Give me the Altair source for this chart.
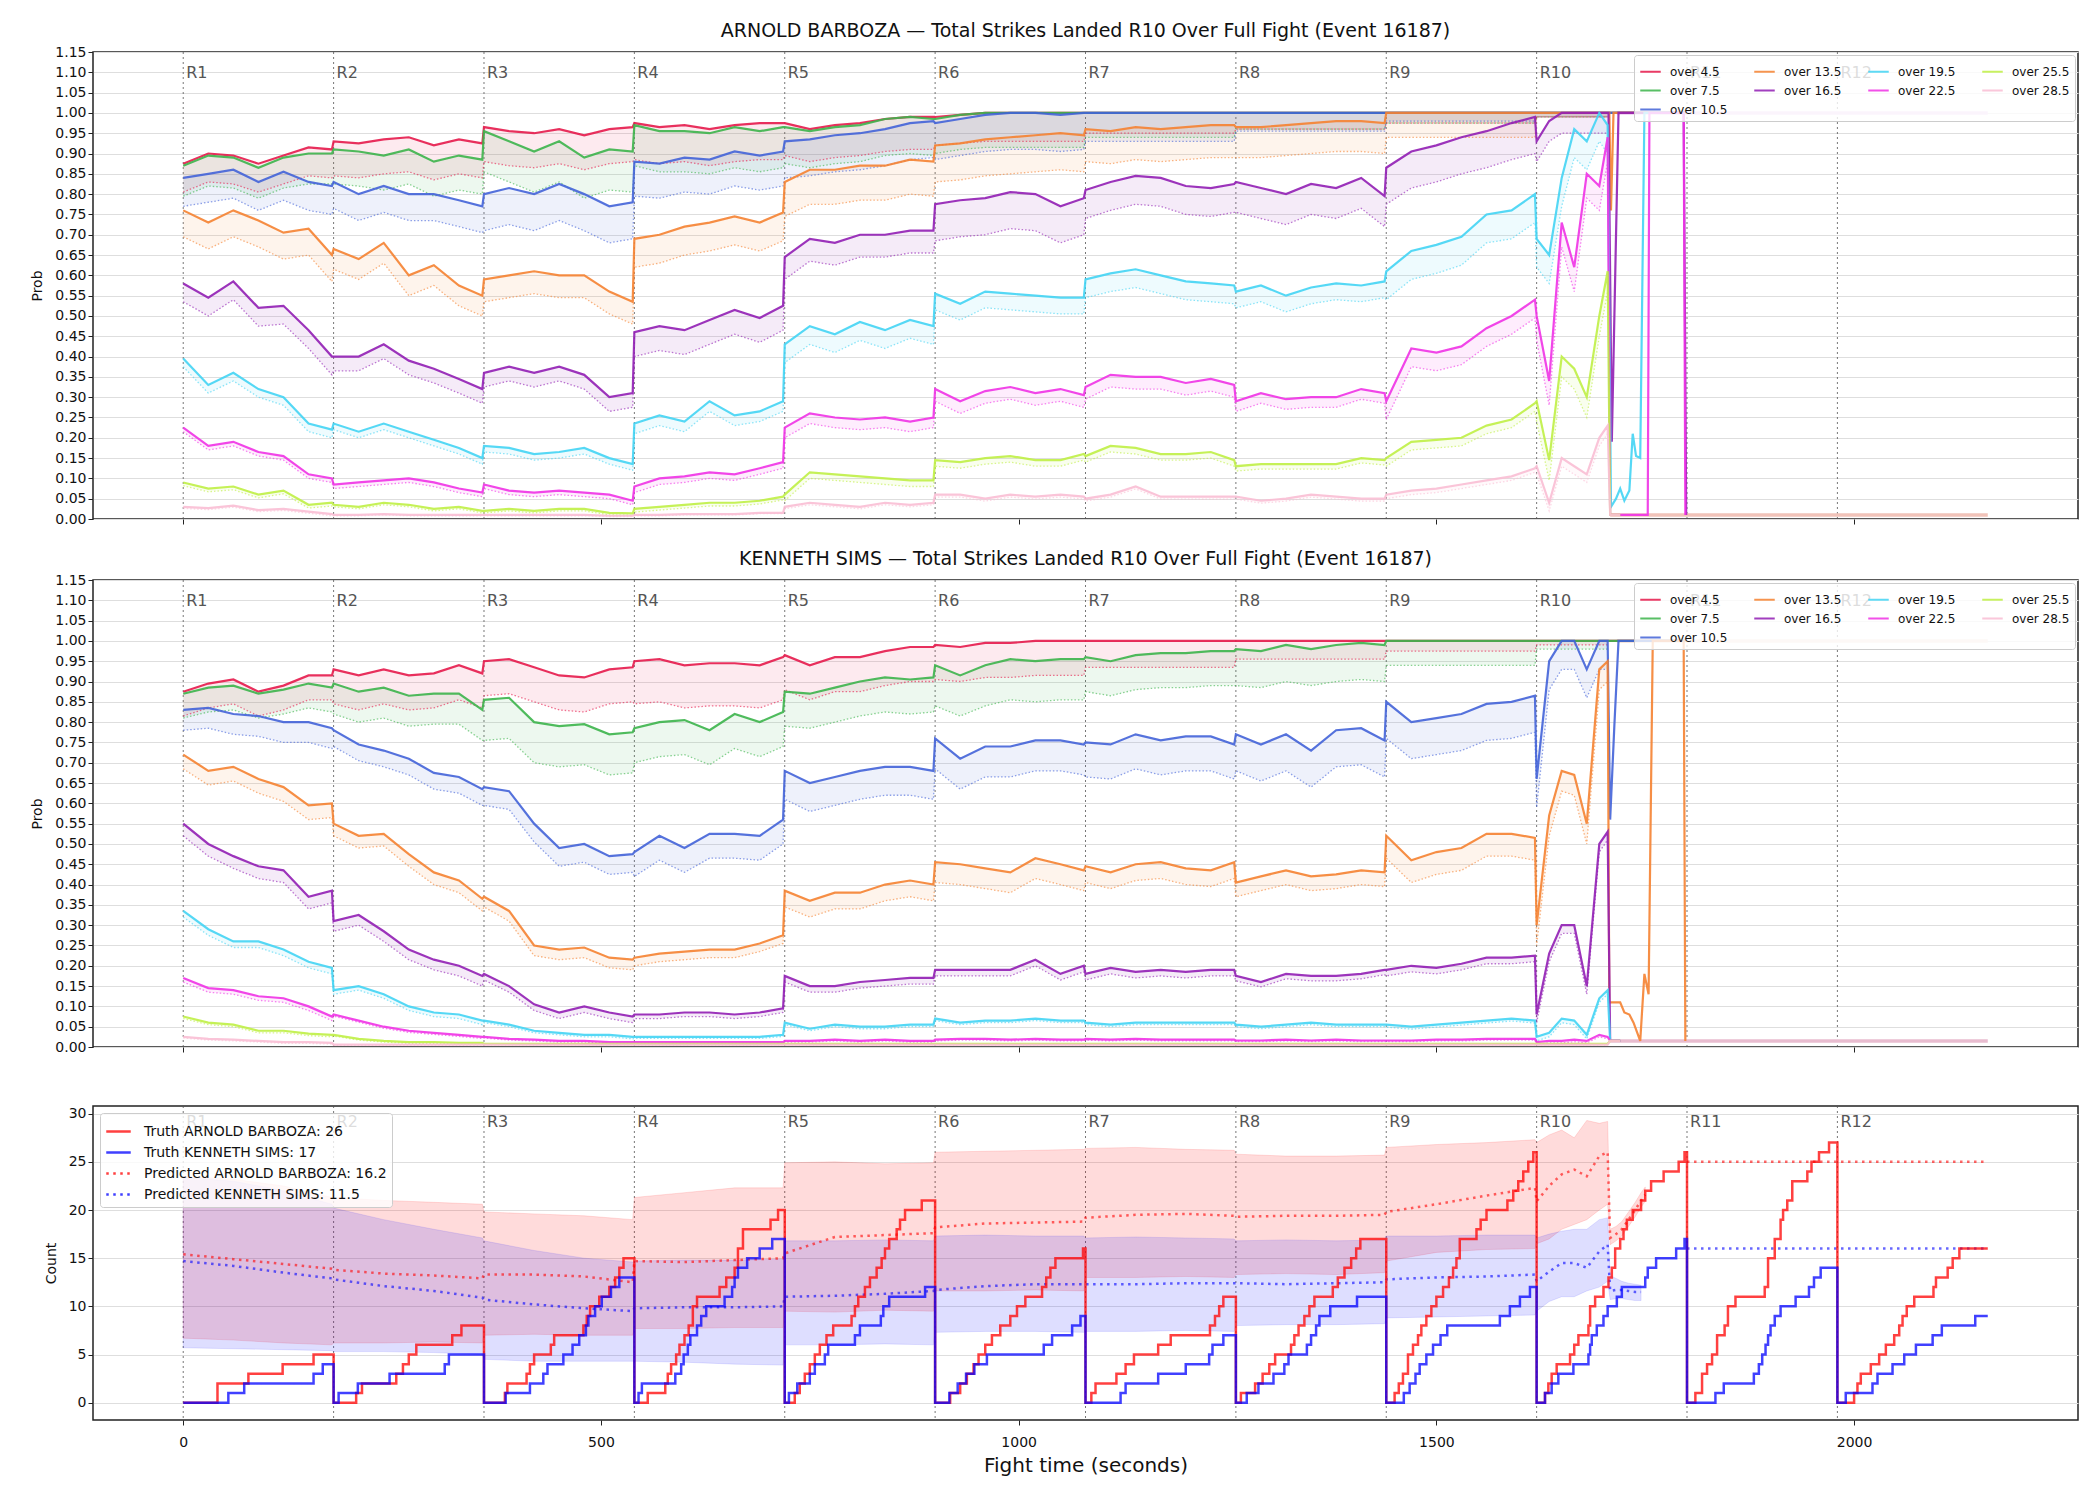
import altair as alt
import pandas as pd

FONT = "DejaVu Sans"

# ---------------- shared axis / round data ----------------
ROUND_STARTS = [0, 180, 360, 540, 720, 900, 1080, 1260, 1440, 1620, 1800, 1980]
ROUND_NAMES = ["R1", "R2", "R3", "R4", "R5", "R6", "R7", "R8", "R9", "R10", "R11", "R12"]
OFFSETS = [0, 30, 60, 90, 120, 150, 178]          # sample offsets in rounds 1-9
OFFSETS_R10 = [0, 15, 30, 45, 60, 75, 85]         # sample offsets in round 10
COARSE_OFFSETS = [0, 60, 120, 178]                # count-panel prediction samples

X_TICKS = [0, 500, 1000, 1500, 2000]
PROB_TICKS = [0.0, 0.05, 0.1, 0.15, 0.2, 0.25, 0.3, 0.35, 0.4, 0.45, 0.5, 0.55,
              0.6, 0.65, 0.7, 0.75, 0.8, 0.85, 0.9, 0.95, 1.0, 1.05, 1.1, 1.15]
COUNT_TICKS = [0, 5, 10, 15, 20, 25, 30]

THRESHOLDS = ["over 4.5", "over 7.5", "over 10.5", "over 13.5", "over 16.5",
              "over 19.5", "over 22.5", "over 25.5", "over 28.5"]
COLORS = ["#e6194b", "#3cb44b", "#4363d8", "#f58231", "#911eb4",
          "#42d4f4", "#f032e6", "#bfef45", "#fabed4"]
LEGEND_ORDER = ["over 4.5", "over 13.5", "over 19.5", "over 25.5",
                "over 7.5", "over 16.5", "over 22.5", "over 28.5", "over 10.5"]

TITLE_A = "ARNOLD BARBOZA \u2014 Total Strikes Landed R10 Over Full Fight (Event 16187)"
TITLE_B = "KENNETH SIMS \u2014 Total Strikes Landed R10 Over Full Fight (Event 16187)"

# ---------------- ARNOLD BARBOZA probabilities (per round) ----------------
A_O45 = [[0.875, 0.90, 0.895, 0.875, 0.895, 0.915, 0.91],
         [0.93, 0.925, 0.935, 0.94, 0.92, 0.935, 0.925],
         [0.965, 0.955, 0.95, 0.96, 0.945, 0.96, 0.965],
         [0.975, 0.965, 0.97, 0.96, 0.97, 0.975, 0.975],
         [0.975, 0.96, 0.97, 0.975, 0.985, 0.99, 0.99],
         [0.99, 0.995, 1.0, 1.0, 1.0, 1.0, 1.0],
         [1.0, 1.0, 1.0, 1.0, 1.0, 1.0, 1.0],
         [1.0, 1.0, 1.0, 1.0, 1.0, 1.0, 1.0],
         [1.0, 1.0, 1.0, 1.0, 1.0, 1.0, 1.0],
         [1.0, 1.0, 1.0, 1.0, 1.0, 1.0, 1.0]]
A_O75 = [[0.87, 0.895, 0.89, 0.865, 0.89, 0.90, 0.90],
         [0.91, 0.905, 0.895, 0.91, 0.88, 0.895, 0.885],
         [0.955, 0.93, 0.905, 0.93, 0.89, 0.91, 0.905],
         [0.97, 0.955, 0.955, 0.95, 0.965, 0.955, 0.965],
         [0.965, 0.955, 0.965, 0.97, 0.985, 0.99, 0.985],
         [0.985, 0.995, 1.0, 1.0, 1.0, 1.0, 1.0],
         [1.0, 1.0, 1.0, 1.0, 1.0, 1.0, 1.0],
         [1.0, 1.0, 1.0, 1.0, 1.0, 1.0, 1.0],
         [1.0, 1.0, 1.0, 1.0, 1.0, 1.0, 1.0],
         [1.0, 1.0, 1.0, 1.0, 1.0, 1.0, 1.0]]
A_O105 = [[0.84, 0.85, 0.86, 0.83, 0.855, 0.83, 0.82],
          [0.83, 0.80, 0.82, 0.80, 0.80, 0.785, 0.77],
          [0.80, 0.815, 0.80, 0.825, 0.80, 0.77, 0.78],
          [0.88, 0.875, 0.89, 0.885, 0.905, 0.895, 0.905],
          [0.93, 0.935, 0.945, 0.95, 0.96, 0.975, 0.98],
          [0.975, 0.985, 0.995, 1.0, 1.0, 0.995, 1.0],
          [1.0, 1.0, 1.0, 1.0, 1.0, 1.0, 1.0],
          [1.0, 1.0, 1.0, 1.0, 1.0, 1.0, 1.0],
          [1.0, 1.0, 1.0, 1.0, 1.0, 1.0, 1.0],
          [1.0, 1.0, 1.0, 1.0, 1.0, 1.0, 1.0]]
A_O135 = [[0.76, 0.73, 0.76, 0.735, 0.705, 0.715, 0.65],
          [0.665, 0.64, 0.68, 0.60, 0.625, 0.575, 0.55],
          [0.59, 0.60, 0.61, 0.60, 0.60, 0.56, 0.535],
          [0.69, 0.70, 0.72, 0.73, 0.745, 0.73, 0.755],
          [0.83, 0.86, 0.86, 0.87, 0.87, 0.885, 0.88],
          [0.92, 0.925, 0.935, 0.94, 0.945, 0.95, 0.945],
          [0.96, 0.955, 0.965, 0.96, 0.965, 0.97, 0.97],
          [0.965, 0.965, 0.97, 0.975, 0.98, 0.98, 0.975],
          [1.0, 1.0, 1.0, 1.0, 1.0, 1.0, 1.0],
          [1.0, 1.0, 1.0, 1.0, 1.0, 1.0, 1.0]]
A_O165 = [[0.58, 0.545, 0.585, 0.52, 0.525, 0.465, 0.40],
          [0.40, 0.40, 0.43, 0.39, 0.37, 0.345, 0.32],
          [0.36, 0.375, 0.36, 0.375, 0.355, 0.30, 0.31],
          [0.46, 0.475, 0.465, 0.49, 0.515, 0.495, 0.525],
          [0.645, 0.69, 0.68, 0.70, 0.70, 0.71, 0.71],
          [0.775, 0.785, 0.79, 0.805, 0.80, 0.77, 0.79],
          [0.81, 0.83, 0.845, 0.84, 0.82, 0.815, 0.825],
          [0.83, 0.815, 0.80, 0.825, 0.815, 0.84, 0.795],
          [0.865, 0.905, 0.92, 0.94, 0.955, 0.975, 0.99],
          [0.93, 0.98, 1.0, 1.0, 1.0, 1.0, 1.0]]
A_O195 = [[0.395, 0.33, 0.36, 0.32, 0.30, 0.235, 0.22],
          [0.235, 0.215, 0.235, 0.215, 0.195, 0.175, 0.15],
          [0.18, 0.175, 0.16, 0.165, 0.175, 0.15, 0.135],
          [0.235, 0.255, 0.24, 0.29, 0.255, 0.265, 0.29],
          [0.43, 0.475, 0.455, 0.485, 0.465, 0.49, 0.475],
          [0.555, 0.53, 0.56, 0.555, 0.55, 0.545, 0.545],
          [0.59, 0.605, 0.615, 0.60, 0.585, 0.58, 0.575],
          [0.56, 0.575, 0.55, 0.57, 0.58, 0.575, 0.585],
          [0.61, 0.66, 0.675, 0.695, 0.75, 0.76, 0.80],
          [0.69, 0.65, 0.84, 0.96, 0.93, 1.0, 0.97]]
A_O225 = [[0.225, 0.18, 0.19, 0.165, 0.155, 0.11, 0.10],
          [0.085, 0.09, 0.095, 0.10, 0.09, 0.075, 0.065],
          [0.085, 0.07, 0.065, 0.07, 0.065, 0.06, 0.045],
          [0.08, 0.10, 0.105, 0.115, 0.11, 0.125, 0.14],
          [0.225, 0.26, 0.25, 0.245, 0.25, 0.24, 0.25],
          [0.32, 0.29, 0.315, 0.325, 0.31, 0.32, 0.305],
          [0.325, 0.355, 0.35, 0.35, 0.335, 0.345, 0.33],
          [0.29, 0.31, 0.295, 0.30, 0.30, 0.32, 0.31],
          [0.29, 0.42, 0.41, 0.425, 0.47, 0.50, 0.54],
          [0.50, 0.34, 0.73, 0.62, 0.85, 0.82, 0.94]]
A_O255 = [[0.09, 0.075, 0.08, 0.06, 0.07, 0.035, 0.04],
          [0.035, 0.03, 0.04, 0.035, 0.025, 0.03, 0.02],
          [0.02, 0.025, 0.02, 0.025, 0.025, 0.015, 0.014],
          [0.025, 0.03, 0.035, 0.04, 0.04, 0.045, 0.055],
          [0.06, 0.115, 0.11, 0.105, 0.10, 0.095, 0.095],
          [0.145, 0.14, 0.15, 0.155, 0.145, 0.145, 0.16],
          [0.155, 0.18, 0.175, 0.16, 0.16, 0.165, 0.145],
          [0.13, 0.135, 0.135, 0.135, 0.135, 0.15, 0.145],
          [0.15, 0.19, 0.195, 0.20, 0.23, 0.245, 0.285],
          [0.29, 0.145, 0.40, 0.37, 0.30, 0.50, 0.61]]
A_O285 = [[0.03, 0.027, 0.033, 0.022, 0.025, 0.018, 0.012],
          [0.01, 0.01, 0.012, 0.01, 0.01, 0.01, 0.01],
          [0.01, 0.01, 0.01, 0.01, 0.01, 0.008, 0.008],
          [0.01, 0.01, 0.012, 0.012, 0.012, 0.015, 0.015],
          [0.03, 0.04, 0.035, 0.03, 0.04, 0.035, 0.04],
          [0.06, 0.06, 0.05, 0.06, 0.055, 0.06, 0.055],
          [0.05, 0.06, 0.08, 0.055, 0.055, 0.055, 0.055],
          [0.055, 0.045, 0.05, 0.06, 0.055, 0.05, 0.05],
          [0.06, 0.07, 0.075, 0.085, 0.095, 0.105, 0.125],
          [0.13, 0.04, 0.15, 0.13, 0.11, 0.20, 0.23]]

# distance from the solid curve down to the dotted curve, per round
A_GAPS = [[0.07, 0.085, 0.085, 0.09, 0.08, 0.07, 0.05, 0.04, 0.025, 0.01],
          [0.075, 0.085, 0.10, 0.10, 0.09, 0.085, 0.06, 0.04, 0.025, 0.01],
          [0.07, 0.065, 0.09, 0.085, 0.09, 0.09, 0.07, 0.045, 0.02, 0.01],
          [0.065, 0.05, 0.055, 0.07, 0.085, 0.09, 0.08, 0.075, 0.06, 0.01],
          [0.045, 0.035, 0.035, 0.06, 0.055, 0.09, 0.07, 0.075, 0.09, 0.05],
          [0.02, 0.015, 0.015, 0.025, 0.045, 0.04, 0.045, 0.04, 0.07, 0.07],
          [0.01, 0.01, 0.01, 0.015, 0.025, 0.03, 0.03, 0.025, 0.045, 0.06],
          [0.008, 0.005, 0.005, 0.008, 0.015, 0.015, 0.015, 0.012, 0.02, 0.05],
          [0.004, 0.002, 0.002, 0.002, 0.005, 0.006, 0.006, 0.006, 0.01, 0.02]]

# curves after the late-R10 collapse: [time, prob]
A_TAILS = [[[1710, 1.0], [1798, 1.0]],
           [[1710, 1.0], [1798, 1.0]],
           [[1710, 1.0], [1798, 1.0]],
           [[1707, 1.0], [1709, 0.76], [1712, 1.0], [1798, 1.0]],
           [[1706, 1.0], [1710, 0.19], [1718, 1.0], [1796, 1.0], [1799, 0.01]],
           [[1709, 0.03], [1715, 0.05], [1720, 0.075], [1725, 0.045], [1731, 0.07],
            [1735, 0.21], [1739, 0.155], [1744, 0.15], [1749, 1.0], [1798, 1.0]],
           [[1708, 0.01], [1753, 0.01], [1755, 1.0], [1796, 1.0], [1798, 0.01]],
           [[1708, 0.01], [1720, 0.01]],
           [[1708, 0.01], [1720, 0.01]]]

# ---------------- KENNETH SIMS probabilities (per round) ----------------
B_O45 = [[0.875, 0.895, 0.905, 0.875, 0.89, 0.915, 0.915],
         [0.93, 0.915, 0.93, 0.915, 0.92, 0.94, 0.92],
         [0.95, 0.955, 0.935, 0.915, 0.91, 0.93, 0.935],
         [0.95, 0.955, 0.94, 0.945, 0.945, 0.94, 0.96],
         [0.965, 0.94, 0.96, 0.96, 0.975, 0.985, 0.985],
         [0.99, 0.985, 0.995, 0.995, 1.0, 1.0, 1.0],
         [1.0, 1.0, 1.0, 1.0, 1.0, 1.0, 1.0],
         [1.0, 1.0, 1.0, 1.0, 1.0, 1.0, 1.0],
         [1.0, 1.0, 1.0, 1.0, 1.0, 1.0, 1.0],
         [1.0, 1.0, 1.0, 1.0, 1.0, 1.0, 1.0]]
B_O75 = [[0.87, 0.885, 0.89, 0.87, 0.88, 0.895, 0.885],
         [0.895, 0.875, 0.885, 0.865, 0.87, 0.87, 0.83],
         [0.855, 0.86, 0.80, 0.79, 0.795, 0.77, 0.775],
         [0.785, 0.80, 0.805, 0.78, 0.82, 0.80, 0.825],
         [0.875, 0.87, 0.885, 0.90, 0.91, 0.905, 0.91],
         [0.94, 0.915, 0.94, 0.955, 0.95, 0.955, 0.955],
         [0.96, 0.95, 0.965, 0.97, 0.97, 0.975, 0.975],
         [0.98, 0.975, 0.99, 0.98, 0.99, 0.995, 0.99],
         [1.0, 1.0, 1.0, 1.0, 1.0, 1.0, 1.0],
         [1.0, 1.0, 1.0, 1.0, 1.0, 1.0, 1.0]]
B_O105 = [[0.83, 0.835, 0.82, 0.815, 0.80, 0.80, 0.785],
          [0.78, 0.745, 0.73, 0.71, 0.675, 0.665, 0.635],
          [0.64, 0.63, 0.55, 0.49, 0.50, 0.47, 0.475],
          [0.48, 0.52, 0.49, 0.525, 0.525, 0.52, 0.56],
          [0.68, 0.65, 0.665, 0.68, 0.69, 0.69, 0.68],
          [0.76, 0.71, 0.74, 0.74, 0.755, 0.755, 0.745],
          [0.75, 0.745, 0.77, 0.755, 0.765, 0.765, 0.745],
          [0.77, 0.745, 0.77, 0.73, 0.78, 0.785, 0.755],
          [0.85, 0.80, 0.81, 0.82, 0.845, 0.85, 0.865],
          [0.66, 0.95, 1.0, 1.0, 0.93, 1.0, 1.0]]
B_O135 = [[0.72, 0.68, 0.69, 0.66, 0.64, 0.595, 0.60],
          [0.55, 0.52, 0.525, 0.475, 0.43, 0.41, 0.365],
          [0.37, 0.335, 0.25, 0.24, 0.245, 0.22, 0.215],
          [0.22, 0.23, 0.235, 0.24, 0.24, 0.255, 0.275],
          [0.385, 0.36, 0.38, 0.38, 0.40, 0.41, 0.40],
          [0.455, 0.45, 0.44, 0.43, 0.465, 0.45, 0.435],
          [0.445, 0.43, 0.45, 0.455, 0.44, 0.435, 0.455],
          [0.405, 0.42, 0.435, 0.42, 0.425, 0.435, 0.43],
          [0.52, 0.46, 0.48, 0.49, 0.525, 0.525, 0.515],
          [0.30, 0.57, 0.68, 0.67, 0.55, 0.93, 0.95]]
B_O165 = [[0.55, 0.50, 0.47, 0.445, 0.435, 0.37, 0.385],
          [0.31, 0.325, 0.285, 0.24, 0.215, 0.20, 0.175],
          [0.18, 0.15, 0.105, 0.085, 0.10, 0.085, 0.075],
          [0.08, 0.08, 0.085, 0.085, 0.08, 0.085, 0.095],
          [0.175, 0.15, 0.15, 0.16, 0.165, 0.17, 0.17],
          [0.19, 0.19, 0.19, 0.19, 0.215, 0.18, 0.20],
          [0.18, 0.195, 0.185, 0.19, 0.185, 0.19, 0.19],
          [0.175, 0.16, 0.18, 0.175, 0.175, 0.18, 0.19],
          [0.19, 0.20, 0.195, 0.205, 0.22, 0.22, 0.225],
          [0.08, 0.23, 0.30, 0.30, 0.15, 0.50, 0.53]]
B_O195 = [[0.335, 0.29, 0.26, 0.26, 0.24, 0.21, 0.195],
          [0.14, 0.15, 0.13, 0.10, 0.085, 0.08, 0.065],
          [0.065, 0.055, 0.04, 0.035, 0.03, 0.03, 0.025],
          [0.025, 0.025, 0.025, 0.025, 0.025, 0.025, 0.03],
          [0.06, 0.045, 0.055, 0.05, 0.05, 0.055, 0.055],
          [0.07, 0.06, 0.065, 0.065, 0.07, 0.065, 0.065],
          [0.06, 0.055, 0.06, 0.06, 0.06, 0.06, 0.06],
          [0.055, 0.05, 0.055, 0.06, 0.055, 0.055, 0.055],
          [0.055, 0.05, 0.055, 0.06, 0.065, 0.07, 0.065],
          [0.025, 0.035, 0.07, 0.065, 0.03, 0.12, 0.14]]
B_O225 = [[0.17, 0.145, 0.14, 0.125, 0.12, 0.10, 0.075],
          [0.08, 0.065, 0.05, 0.04, 0.035, 0.03, 0.025],
          [0.025, 0.02, 0.018, 0.015, 0.015, 0.012, 0.012],
          [0.012, 0.012, 0.012, 0.012, 0.012, 0.012, 0.012],
          [0.015, 0.015, 0.018, 0.015, 0.018, 0.015, 0.015],
          [0.018, 0.02, 0.02, 0.018, 0.02, 0.018, 0.018],
          [0.02, 0.018, 0.02, 0.018, 0.018, 0.018, 0.018],
          [0.016, 0.016, 0.018, 0.016, 0.018, 0.016, 0.016],
          [0.016, 0.016, 0.018, 0.018, 0.02, 0.02, 0.02],
          [0.012, 0.015, 0.015, 0.018, 0.015, 0.03, 0.025]]
B_O255 = [[0.075, 0.06, 0.055, 0.04, 0.04, 0.033, 0.03],
          [0.03, 0.02, 0.015, 0.012, 0.012, 0.01, 0.01],
          [0.008, 0.008, 0.008, 0.008, 0.008, 0.008, 0.008],
          [0.008, 0.008, 0.008, 0.008, 0.008, 0.008, 0.008],
          [0.008, 0.008, 0.008, 0.008, 0.008, 0.008, 0.008],
          [0.008, 0.008, 0.008, 0.008, 0.008, 0.008, 0.008],
          [0.008, 0.008, 0.008, 0.008, 0.008, 0.008, 0.008],
          [0.008, 0.008, 0.008, 0.008, 0.008, 0.008, 0.008],
          [0.008, 0.008, 0.008, 0.008, 0.008, 0.008, 0.008],
          [0.008, 0.008, 0.008, 0.008, 0.008, 0.008, 0.008]]
B_O285 = [[0.025, 0.02, 0.018, 0.015, 0.012, 0.012, 0.01],
          [0.006, 0.006, 0.006, 0.006, 0.006, 0.006, 0.006],
          [0.006, 0.006, 0.006, 0.006, 0.006, 0.006, 0.006],
          [0.006, 0.006, 0.006, 0.006, 0.006, 0.006, 0.006],
          [0.006, 0.006, 0.006, 0.006, 0.006, 0.006, 0.006],
          [0.006, 0.006, 0.006, 0.006, 0.006, 0.006, 0.006],
          [0.006, 0.006, 0.006, 0.006, 0.006, 0.006, 0.006],
          [0.006, 0.006, 0.006, 0.006, 0.006, 0.006, 0.006],
          [0.006, 0.006, 0.006, 0.006, 0.006, 0.006, 0.006],
          [0.006, 0.006, 0.006, 0.006, 0.006, 0.006, 0.006]]

B_GAPS = [[0.06, 0.085, 0.085, 0.105, 0.085, 0.085, 0.065, 0.045, 0.025, 0.01],
          [0.06, 0.075, 0.10, 0.085, 0.085, 0.10, 0.085, 0.09, 0.06, 0.02],
          [0.05, 0.04, 0.045, 0.06, 0.07, 0.075, 0.085, 0.09, 0.09, 0.07],
          [0.035, 0.03, 0.025, 0.02, 0.04, 0.05, 0.04, 0.035, 0.055, 0.05],
          [0.03, 0.025, 0.015, 0.01, 0.015, 0.015, 0.015, 0.012, 0.015, 0.02],
          [0.015, 0.01, 0.005, 0.004, 0.005, 0.005, 0.005, 0.005, 0.006, 0.01],
          [0.01, 0.004, 0.003, 0.003, 0.003, 0.003, 0.003, 0.003, 0.003, 0.005],
          [0.005, 0.003, 0.002, 0.002, 0.002, 0.002, 0.002, 0.002, 0.002, 0.002],
          [0.003, 0.002, 0.002, 0.002, 0.002, 0.002, 0.002, 0.002, 0.002, 0.002]]

B_TAILS = [[[1710, 1.0], [1798, 1.0]],
           [[1710, 1.0], [1798, 1.0]],
           [[1708, 0.56], [1713, 0.79], [1718, 1.0], [1798, 1.0]],
           [[1707, 0.11], [1715, 0.11], [1720, 0.11], [1725, 0.085], [1731, 0.08],
            [1736, 0.06], [1744, 0.015], [1749, 0.18], [1754, 0.13], [1759, 1.0],
            [1796, 1.0], [1798, 0.015]],
           [[1708, 0.015], [1720, 0.015]],
           [[1708, 0.015], [1720, 0.015]],
           [[1708, 0.015], [1720, 0.015]],
           [[1708, 0.015], [1720, 0.015]],
           [[1708, 0.015], [1720, 0.015]]]

# faint settled levels after the fight data: [level, start time, end time]
A_FAINT = [[1.0, 1716, 2160], [0.01, 1708, 2160]]
B_FAINT = [[1.0, 1716, 2160], [0.015, 1708, 2160]]
A_FAINT_COLORS = ["#ecc9f0", "#f1c3b9"]
B_FAINT_COLORS = ["#f3dbd0", "#e8bccf"]

# ---------------- count panel ----------------
LABEL_TA = "Truth ARNOLD BARBOZA: 26"
LABEL_TB = "Truth KENNETH SIMS: 17"
LABEL_PA = "Predicted ARNOLD BARBOZA: 16.2"
LABEL_PB = "Predicted KENNETH SIMS: 11.5"

TRUTH_A = [[0, 0], [41, 2], [78, 3], [119, 4], [156, 5],
           [180, 0], [207, 1], [214, 2], [255, 3], [263, 4], [270, 5], [279, 6], [322, 7], [333, 8],
           [360, 0], [385, 1], [388, 2], [411, 3], [415, 4], [420, 5], [440, 6], [444, 7], [479, 8],
           [483, 9], [487, 10], [498, 11], [510, 12], [517, 13], [522, 14], [527, 15],
           [540, 0], [556, 1], [577, 2], [580, 3], [584, 4], [590, 5], [594, 6], [600, 7], [605, 8],
           [610, 10], [615, 11], [642, 12], [650, 13], [660, 14], [664, 16], [670, 18], [703, 19], [712, 20],
           [720, 0], [732, 1], [738, 2], [744, 3], [750, 4], [756, 5], [762, 6], [770, 7], [778, 8],
           [800, 9], [804, 10], [808, 11], [816, 12], [822, 13], [830, 14], [836, 15], [840, 16],
           [845, 17], [854, 18], [858, 19], [864, 20], [884, 21],
           [900, 0], [918, 1], [930, 2], [938, 3], [946, 4], [952, 5], [960, 6], [968, 7], [978, 8],
           [990, 9], [998, 10], [1008, 11], [1028, 12], [1033, 13], [1038, 14], [1044, 15], [1077, 16],
           [1080, 0], [1087, 1], [1092, 2], [1117, 3], [1128, 4], [1138, 5], [1167, 6], [1182, 7],
           [1229, 8], [1235, 9], [1240, 10], [1245, 11],
           [1260, 0], [1266, 1], [1283, 2], [1292, 3], [1300, 4], [1307, 5], [1326, 6], [1330, 7],
           [1335, 8], [1342, 9], [1348, 10], [1354, 11], [1376, 12], [1382, 13], [1390, 14],
           [1398, 15], [1404, 16], [1409, 17],
           [1440, 0], [1450, 1], [1455, 2], [1460, 3], [1466, 5], [1472, 6], [1478, 7], [1482, 8],
           [1488, 9], [1494, 10], [1500, 11], [1508, 12], [1515, 13], [1520, 14], [1524, 15],
           [1528, 17], [1548, 18], [1553, 19], [1560, 20], [1585, 21], [1592, 22], [1598, 23],
           [1604, 24], [1610, 25], [1616, 26],
           [1620, 0], [1630, 1], [1634, 2], [1638, 3], [1644, 4], [1660, 5], [1665, 6], [1670, 7],
           [1682, 8], [1684, 10], [1690, 11], [1700, 12], [1706, 13], [1710, 14], [1714, 16],
           [1720, 17], [1724, 18], [1728, 19], [1735, 20], [1745, 21], [1750, 22], [1757, 23],
           [1772, 24], [1790, 25], [1797, 26],
           [1800, 0], [1810, 1], [1818, 3], [1824, 4], [1830, 5], [1836, 7], [1845, 8], [1849, 10],
           [1858, 11], [1893, 12], [1897, 15], [1905, 17], [1912, 19], [1915, 20], [1920, 21],
           [1926, 23], [1944, 24], [1949, 25], [1958, 26], [1970, 27],
           [1980, 0], [2000, 1], [2004, 2], [2008, 3], [2020, 4], [2030, 5], [2038, 6], [2048, 7],
           [2054, 8], [2058, 9], [2063, 10], [2072, 11], [2095, 12], [2098, 13], [2112, 14],
           [2118, 15], [2126, 16], [2160, 16]]

TRUTH_B = [[0, 0], [54, 1], [73, 2], [156, 3], [167, 4],
           [180, 0], [186, 1], [209, 2], [247, 3], [313, 4], [318, 5],
           [360, 0], [386, 1], [415, 2], [431, 3], [436, 4], [455, 5], [466, 6], [474, 7], [482, 8],
           [485, 9], [493, 10], [501, 11], [512, 12], [522, 13],
           [540, 0], [545, 1], [549, 2], [589, 3], [596, 4], [599, 5], [604, 6], [607, 7], [615, 8],
           [620, 9], [626, 10], [648, 11], [657, 12], [660, 13], [664, 14], [675, 15], [690, 16], [705, 17],
           [720, 0], [725, 1], [735, 2], [750, 3], [756, 4], [768, 5], [772, 6], [804, 7], [810, 8],
           [835, 9], [838, 10], [845, 11], [888, 12],
           [900, 0], [917, 1], [927, 2], [937, 3], [947, 4], [962, 5], [1030, 6], [1040, 7], [1064, 8], [1074, 9],
           [1080, 0], [1122, 1], [1128, 2], [1167, 3], [1200, 4], [1228, 5], [1232, 6], [1245, 7],
           [1260, 0], [1273, 1], [1287, 2], [1305, 3], [1318, 4], [1323, 5], [1345, 6], [1350, 7],
           [1356, 8], [1360, 9], [1373, 10], [1405, 11],
           [1440, 0], [1461, 1], [1468, 2], [1475, 3], [1480, 4], [1488, 5], [1496, 6], [1505, 7],
           [1513, 8], [1576, 9], [1588, 10], [1600, 11], [1612, 12],
           [1620, 0], [1630, 1], [1638, 2], [1646, 3], [1664, 4], [1682, 5], [1684, 6], [1686, 7],
           [1692, 8], [1700, 9], [1705, 10], [1716, 11], [1722, 12], [1750, 13], [1753, 14],
           [1763, 15], [1787, 16], [1797, 17],
           [1800, 0], [1834, 1], [1844, 2], [1880, 3], [1886, 4], [1890, 5], [1894, 6], [1897, 7],
           [1900, 8], [1905, 9], [1912, 10], [1930, 11], [1946, 12], [1952, 13], [1960, 14],
           [1980, 0], [1990, 1], [2022, 2], [2028, 3], [2046, 4], [2060, 5], [2074, 6], [2094, 7],
           [2105, 8], [2145, 9], [2160, 9]]

PRED_A_ROUNDS = [[15.4, 14.9, 14.4, 13.9], [13.8, 13.4, 13.2, 12.9], [13.3, 13.3, 13.1, 12.5],
                 [14.7, 14.6, 14.8, 15.0], [15.5, 17.2, 17.4, 17.6], [18.2, 18.6, 18.7, 18.8],
                 [19.2, 19.5, 19.6, 19.4], [19.3, 19.4, 19.4, 19.5], [19.8, 20.6, 21.5, 22.3]]
PRED_A_R10 = [20.9, 22.5, 23.7, 24.2, 23.5, 25.6, 26.0]
BAND_A_LO_ROUNDS = [[6.7, 6.5, 6.2, 6.0], [6.2, 6.2, 6.3, 6.2], [7.0, 7.1, 7.0, 7.0],
                    [7.7, 7.7, 7.8, 7.8], [9.5, 9.4, 9.6, 9.5], [11.6, 11.6, 11.7, 11.6],
                    [13.0, 13.0, 13.1, 13.0], [13.3, 13.4, 13.3, 13.5], [14.7, 15.6, 15.9, 16.0]]
BAND_A_LO_R10 = [16.5, 17.0, 18.0, 18.5, 19.0, 20.0, 20.6]
BAND_A_HI_ROUNDS = [[23.5, 23.2, 22.5, 21.3], [21.3, 21.0, 20.8, 20.6], [19.8, 19.6, 19.4, 19.0],
                    [21.3, 21.8, 22.3, 22.3], [24.9, 25.0, 24.8, 24.9], [26.0, 26.1, 26.2, 26.3],
                    [26.4, 26.5, 26.3, 26.2], [25.8, 25.6, 25.6, 25.7], [26.5, 26.8, 27.0, 27.3]]
BAND_A_HI_R10 = [27.0, 27.8, 28.3, 27.5, 29.3, 29.0, 29.2]

PRED_B_ROUNDS = [[14.7, 14.2, 13.5, 12.9], [12.8, 12.1, 11.6, 10.9], [10.7, 10.2, 9.8, 9.5],
                 [9.8, 9.9, 9.9, 10.0], [11.0, 11.1, 11.3, 11.6], [11.7, 12.1, 12.3, 12.3],
                 [12.3, 12.3, 12.4, 12.4], [12.4, 12.3, 12.4, 12.5], [12.8, 13.0, 13.1, 13.3]]
PRED_B_R10 = [12.6, 13.6, 14.5, 14.5, 14.0, 15.7, 16.4]
BAND_B_LO_ROUNDS = [[5.7, 5.6, 5.5, 5.4], [5.3, 5.3, 5.2, 5.0], [4.5, 4.3, 4.3, 4.3],
                    [4.3, 4.2, 4.0, 3.9], [6.0, 6.0, 6.1, 6.0], [7.3, 7.4, 7.4, 7.3],
                    [7.4, 7.4, 7.5, 7.4], [8.0, 8.1, 8.1, 8.2], [8.8, 8.9, 9.0, 9.1]]
BAND_B_LO_R10 = [9.5, 10.5, 11.0, 11.0, 11.6, 12.0, 12.6]
BAND_B_HI_ROUNDS = [[23.4, 23.0, 22.0, 20.6], [20.2, 19.0, 18.0, 17.1], [16.8, 15.8, 15.0, 14.6],
                    [14.7, 14.8, 14.8, 14.9], [16.8, 16.8, 16.9, 16.8], [17.3, 17.4, 17.3, 17.3],
                    [17.1, 17.2, 17.1, 17.0], [16.8, 16.9, 16.8, 16.9], [17.3, 17.3, 17.4, 17.4]]
BAND_B_HI_R10 = [17.1, 17.5, 17.8, 18.0, 18.0, 19.0, 19.2]

POST_A_T = [1708, 1715, 1722, 1730, 1738, 1745, 1750]
POST_A_PRED = [17.1, 17.5, 18.0, 19.0, 20.0, 21.0, 21.6]
POST_A_LO = [16.4, 16.8, 17.3, 18.3, 19.3, 20.3, 20.9]
POST_A_HI = [18.0, 18.3, 18.8, 19.8, 20.8, 21.8, 22.4]
POST_B_T = [1708, 1715, 1722, 1730, 1738, 1745]
POST_B_PRED = [11.6, 11.7, 11.7, 11.6, 11.5, 11.5]
POST_B_LO = [10.7, 10.8, 10.8, 10.7, 10.6, 10.6]
POST_B_HI = [13.2, 12.9, 12.6, 12.4, 12.3, 12.2]
FINAL_T = [1800, 2160]
FINAL_A = [25.0, 25.0]
FINAL_B = [16.0, 16.0]


# ---------------- frames ----------------
def prob_frames(series, gaps, tails):
    line_rows, band_rows = [], []
    for name, rounds, gap, tail in zip(THRESHOLDS, series, gaps, tails):
        for r, vals in enumerate(rounds):
            offs = OFFSETS_R10 if r == 9 else OFFSETS
            for o, v in zip(offs, vals):
                t = ROUND_STARTS[r] + o
                line_rows.append({"t": t, "p": v, "s": name})
                band_rows.append({"t": t, "p": v, "q": max(v - gap[r], 0.002), "s": name})
        for t, v in tail:
            line_rows.append({"t": t, "p": v, "s": name})
    return pd.DataFrame(line_rows), pd.DataFrame(band_rows)


def coarse_series(rounds, r10):
    out = []
    for r, vals in enumerate(rounds):
        for o, v in zip(COARSE_OFFSETS, vals):
            out.append((ROUND_STARTS[r] + o, v))
    for o, v in zip(OFFSETS_R10, r10):
        out.append((ROUND_STARTS[9] + o, v))
    return out


A_LINE, A_BAND = prob_frames([A_O45, A_O75, A_O105, A_O135, A_O165, A_O195, A_O225, A_O255, A_O285],
                             A_GAPS, A_TAILS)
B_LINE, B_BAND = prob_frames([B_O45, B_O75, B_O105, B_O135, B_O165, B_O195, B_O225, B_O255, B_O285],
                             B_GAPS, B_TAILS)

rounds_df = pd.DataFrame({"t": ROUND_STARTS, "name": ROUND_NAMES})

truth_rows = [{"t": t, "v": v, "label": LABEL_TA} for t, v in TRUTH_A] + \
             [{"t": t, "v": v, "label": LABEL_TB} for t, v in TRUTH_B]
truth_df = pd.DataFrame(truth_rows)

pred_rows, band_rows = [], []
for label, key, rounds, r10, lo_r, lo10, hi_r, hi10, pt, pp, pl, ph, fin in [
        (LABEL_PA, "A", PRED_A_ROUNDS, PRED_A_R10, BAND_A_LO_ROUNDS, BAND_A_LO_R10,
         BAND_A_HI_ROUNDS, BAND_A_HI_R10, POST_A_T, POST_A_PRED, POST_A_LO, POST_A_HI, FINAL_A),
        (LABEL_PB, "B", PRED_B_ROUNDS, PRED_B_R10, BAND_B_LO_ROUNDS, BAND_B_LO_R10,
         BAND_B_HI_ROUNDS, BAND_B_HI_R10, POST_B_T, POST_B_PRED, POST_B_LO, POST_B_HI, FINAL_B)]:
    mean = coarse_series(rounds, r10)
    lo = coarse_series(lo_r, lo10)
    hi = coarse_series(hi_r, hi10)
    for (t, m), (_, l), (_, h) in zip(mean, lo, hi):
        pred_rows.append({"t": t, "v": m, "label": label, "seg": 0})
        band_rows.append({"t": t, "lo": l, "hi": h, "f": key})
    for t, m, l, h in zip(pt, pp, pl, ph):
        pred_rows.append({"t": t, "v": m, "label": label, "seg": 0})
        band_rows.append({"t": t, "lo": l, "hi": h, "f": key})
    for t, m in zip(FINAL_T, fin):
        pred_rows.append({"t": t, "v": m, "label": label, "seg": 1})
pred_df = pd.DataFrame(pred_rows)
cband_df = pd.DataFrame(band_rows)

# ---------------- chart pieces ----------------
PANEL_W = 1985
PROB_H = 467
COUNT_H = 314

X_SCALE = alt.Scale(domain=[-108, 2268], nice=False, zero=False)


def x_enc(field="t", bottom=False):
    if bottom:
        ax = alt.Axis(values=X_TICKS, title="Fight time (seconds)", grid=False, domain=False,
                      tickSize=5, labelFontSize=14, titleFontSize=20, labelPadding=10,
                      titlePadding=6, format="d")
    else:
        ax = alt.Axis(values=X_TICKS, labels=False, title=None, grid=False, domain=False, tickSize=5)
    return alt.X(f"{field}:Q", scale=X_SCALE, axis=ax)


PROB_SCALE = alt.Scale(domain=[0, 1.15], nice=False, zero=False)
PROB_AXIS = alt.Axis(values=PROB_TICKS, format=".2f", title="Prob", grid=True, gridColor="#dedede",
                     domain=False, tickSize=5, labelFontSize=14, titleFontSize=14, titlePadding=10)
COLOR_SCALE = alt.Scale(domain=LEGEND_ORDER,
                        range=[COLORS[THRESHOLDS.index(n)] for n in LEGEND_ORDER])
PROB_LEGEND = alt.Legend(title=None, orient="top-right", offset=3, columns=4, direction="horizontal",
                         symbolType="stroke", symbolStrokeWidth=2, symbolSize=420,
                         labelFontSize=12, labelOffset=8, columnPadding=22, rowPadding=1,
                         padding=5, labelLimit=200,
                         fillColor="rgba(255,255,255,0.8)", strokeColor="#cccccc",
                         cornerRadius=3, symbolOpacity=0.85, symbolDash=[1, 0],
                         symbolFillColor="transparent")


def prob_panel(line_df, band_df, title, faint, faint_colors):
    rules = alt.Chart(rounds_df).mark_rule(color="#555555", strokeDash=[2, 3], strokeWidth=1,
                                           opacity=0.8).encode(x=x_enc())
    faint_layers = []
    for (lvl, t0, t1), c in zip(faint, faint_colors):
        fdf = pd.DataFrame({"t": [t0, t1], "p": [lvl, lvl]})
        faint_layers.append(alt.Chart(fdf).mark_line(color=c, strokeWidth=3.5).encode(
            x=x_enc(), y=alt.Y("p:Q", scale=PROB_SCALE, axis=PROB_AXIS)))
    band = alt.Chart(band_df).mark_area(opacity=0.09).encode(
        x=x_enc(), y=alt.Y("p:Q", scale=PROB_SCALE, axis=PROB_AXIS), y2="q:Q",
        color=alt.Color("s:N", scale=COLOR_SCALE, legend=PROB_LEGEND))
    dotted = alt.Chart(band_df).mark_line(strokeDash=[1.5, 2], strokeWidth=1.3, opacity=0.6).encode(
        x=x_enc(), y=alt.Y("q:Q", scale=PROB_SCALE, axis=PROB_AXIS),
        color=alt.Color("s:N", scale=COLOR_SCALE, legend=PROB_LEGEND))
    solid = alt.Chart(line_df).mark_line(strokeWidth=2.2, opacity=0.9).encode(
        x=x_enc(), y=alt.Y("p:Q", scale=PROB_SCALE, axis=PROB_AXIS),
        color=alt.Color("s:N", scale=COLOR_SCALE, legend=PROB_LEGEND))
    labels = alt.Chart(rounds_df).mark_text(align="left", baseline="middle", dx=3, fontSize=16,
                                            color="#555555", font=FONT).encode(
        x=x_enc(), y=alt.value(21), text="name:N")
    return alt.layer(rules, *faint_layers, band, dotted, solid, labels).properties(
        width=PANEL_W, height=PROB_H,
        title=alt.TitleParams(title, fontSize=19, offset=4, anchor="middle", fontWeight="normal"))


COUNT_SCALE = alt.Scale(domain=[-1.8, 30.8], nice=False, zero=False)
COUNT_AXIS = alt.Axis(values=COUNT_TICKS, title="Count", grid=True, gridColor="#dedede",
                      domain=False, tickSize=5, labelFontSize=14, titleFontSize=14, titlePadding=10)
LINE_DOMAIN = [LABEL_TA, LABEL_TB, LABEL_PA, LABEL_PB]
LINE_COLOR = alt.Scale(domain=LINE_DOMAIN, range=["#ff0000", "#0000ff", "#ff0000", "#0000ff"])
LINE_DASH = alt.Scale(domain=LINE_DOMAIN, range=[[1, 0], [1, 0], [2.5, 4.5], [2.5, 4.5]])
LINE_LEGEND = alt.Legend(title=None, orient="top-left", offset=7, symbolType="stroke",
                         symbolStrokeWidth=2.5, symbolSize=600, labelFontSize=14, labelOffset=12,
                         rowPadding=0, padding=5, labelLimit=400,
                         fillColor="rgba(255,255,255,0.8)",
                         strokeColor="#cccccc", cornerRadius=3, symbolOpacity=0.75)

c_rules = alt.Chart(rounds_df).mark_rule(color="#555555", strokeDash=[2, 3], strokeWidth=1,
                                         opacity=0.8).encode(x=x_enc(bottom=True))
band_a = alt.Chart(cband_df[cband_df["f"] == "A"]).mark_area(
    color="#ff0000", fillOpacity=0.14, stroke="#ff0000", strokeOpacity=0.12, strokeWidth=1).encode(
    x=x_enc(bottom=True), y=alt.Y("lo:Q", scale=COUNT_SCALE, axis=COUNT_AXIS), y2="hi:Q")
band_b = alt.Chart(cband_df[cband_df["f"] == "B"]).mark_area(
    color="#0000ff", fillOpacity=0.13, stroke="#0000ff", strokeOpacity=0.1, strokeWidth=1).encode(
    x=x_enc(bottom=True), y=alt.Y("lo:Q", scale=COUNT_SCALE, axis=COUNT_AXIS), y2="hi:Q")
pred_lines = alt.Chart(pred_df).mark_line(strokeWidth=2.5, opacity=0.6).encode(
    x=x_enc(bottom=True), y=alt.Y("v:Q", scale=COUNT_SCALE, axis=COUNT_AXIS),
    color=alt.Color("label:N", scale=LINE_COLOR, legend=LINE_LEGEND),
    strokeDash=alt.StrokeDash("label:N", scale=LINE_DASH, legend=LINE_LEGEND),
    detail="seg:N")
truth_lines = alt.Chart(truth_df).mark_line(strokeWidth=2.5, opacity=0.75, interpolate="step-after").encode(
    x=x_enc(bottom=True), y=alt.Y("v:Q", scale=COUNT_SCALE, axis=COUNT_AXIS),
    color=alt.Color("label:N", scale=LINE_COLOR, legend=LINE_LEGEND),
    strokeDash=alt.StrokeDash("label:N", scale=LINE_DASH, legend=LINE_LEGEND))
c_labels = alt.Chart(rounds_df).mark_text(align="left", baseline="middle", dx=3, fontSize=16,
                                          color="#555555", font=FONT).encode(
    x=x_enc(bottom=True), y=alt.value(16), text="name:N")

count_panel = alt.layer(c_rules, band_a, band_b, pred_lines, truth_lines, c_labels).properties(
    width=PANEL_W, height=COUNT_H,
    title=alt.TitleParams(" ", fontSize=19, offset=8, anchor="middle"))

panel_a = prob_panel(A_LINE, A_BAND, TITLE_A, A_FAINT, A_FAINT_COLORS)
panel_b = prob_panel(B_LINE, B_BAND, TITLE_B, B_FAINT, B_FAINT_COLORS)

chart = alt.vconcat(panel_a, panel_b, count_panel, spacing=22).resolve_scale(
    color="independent", strokeDash="independent"
).properties(
    padding={"left": 30, "top": 21, "right": 12, "bottom": 8},
    background="white"
).configure_view(
    stroke="#222222", strokeWidth=1.5
).configure_axis(
    labelFont=FONT, titleFont=FONT, titleFontWeight="normal", labelColor="#111111",
    titleColor="#111111", tickColor="#222222"
).configure_title(
    font=FONT, color="#111111"
).configure_legend(
    labelFont=FONT, labelColor="#111111"
)

chart.save("out.html", embed_options={"renderer": "svg", "actions": False})
